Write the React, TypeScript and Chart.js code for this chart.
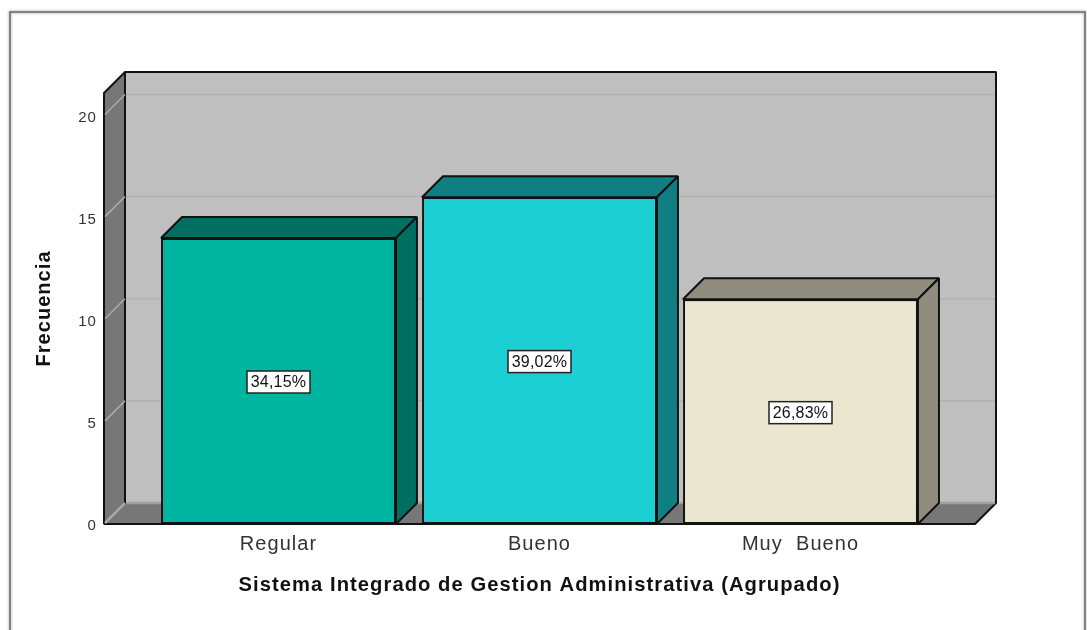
import React, { useEffect, useRef } from "react";
import { Chart, registerables } from "chart.js";

Chart.register(...registerables);

const categories = ["Regular", "Bueno", "Muy  Bueno"];
const frequencies = [14, 16, 11];
const percentLabels = ["34,15%", "39,02%", "26,83%"];
const frontColors = ["#00B5A0", "#1CCFD2", "#EBE6D0"];
const sideColors = ["#006F62", "#0F7F83", "#918D7E"];
const yTicks = [0, 5, 10, 15, 20];
const xTitle = "Sistema Integrado de Gestion Administrativa (Agrupado)";
const yTitle = "Frecuencia";

const DEPTH = 21;
const WALL_LEFT = 104;
const WALL_RIGHT = 975;
const FONT = "'Liberation Sans', Arial, sans-serif";
const INK = "#111111";

function poly(ctx: CanvasRenderingContext2D, pts: number[][], fill: string, stroke = INK, lw = 2) {
  ctx.beginPath();
  pts.forEach((p, i) => (i ? ctx.lineTo(p[0], p[1]) : ctx.moveTo(p[0], p[1])));
  ctx.closePath();
  ctx.fillStyle = fill;
  ctx.fill();
  ctx.lineWidth = lw;
  ctx.strokeStyle = stroke;
  ctx.lineJoin = "bevel";
  ctx.stroke();
}

const framePlugin = {
  id: "frame",
  beforeDraw(chart: any) {
    const ctx = chart.ctx;
    ctx.save();
    ctx.fillStyle = "#fff";
    ctx.fillRect(0, 0, chart.width, chart.height);
    ctx.strokeStyle = "rgba(120,120,120,0.9)";
    ctx.lineWidth = 2;
    ctx.shadowColor = "rgba(90,90,90,0.6)";
    ctx.shadowBlur = 3;
    ctx.beginPath();
    ctx.moveTo(10, 640);
    ctx.lineTo(10, 12);
    ctx.lineTo(1085, 12);
    ctx.lineTo(1085, 640);
    ctx.stroke();
    ctx.restore();
    (ctx as any).letterSpacing = "1.05px";
  },
};

const box3dPlugin = {
  id: "box3d",
  beforeDatasetsDraw(chart: any) {
    const ctx = chart.ctx as CanvasRenderingContext2D;
    const y = chart.scales.y;
    const top = chart.chartArea.top;
    const bottom = chart.chartArea.bottom;
    ctx.save();
    poly(ctx, [
      [WALL_LEFT + DEPTH, top - DEPTH],
      [WALL_RIGHT + DEPTH, top - DEPTH],
      [WALL_RIGHT + DEPTH, bottom - DEPTH],
      [WALL_LEFT + DEPTH, bottom - DEPTH],
    ], "#BFBFBF");
    poly(ctx, [
      [WALL_LEFT, top],
      [WALL_LEFT + DEPTH, top - DEPTH],
      [WALL_LEFT + DEPTH, bottom - DEPTH],
      [WALL_LEFT, bottom],
    ], "#777777");
    poly(ctx, [
      [WALL_LEFT, bottom],
      [WALL_LEFT + DEPTH, bottom - DEPTH],
      [WALL_RIGHT + DEPTH, bottom - DEPTH],
      [WALL_RIGHT, bottom],
    ], "#777777");
    yTicks.forEach((t) => {
      const py = y.getPixelForValue(t);
      ctx.lineWidth = t === 0 ? 2.5 : 1.5;
      ctx.strokeStyle = "#ABABAB";
      ctx.beginPath();
      ctx.moveTo(WALL_LEFT + 1, py - 1);
      ctx.lineTo(WALL_LEFT + DEPTH, py - DEPTH);
      ctx.stroke();
      ctx.strokeStyle = t === 0 ? "#A0A0A0" : "#B2B2B2";
      ctx.beginPath();
      ctx.moveTo(WALL_LEFT + DEPTH + 1, py - DEPTH);
      ctx.lineTo(WALL_RIGHT + DEPTH - 1, py - DEPTH);
      ctx.stroke();
    });
    chart.getDatasetMeta(0).data.forEach((bar: any, i: number) => {
      const l = bar.x - bar.width / 2;
      const r = bar.x + bar.width / 2;
      const t = bar.y;
      const b = bar.base;
      poly(ctx, [[l, t], [l + DEPTH, t - DEPTH], [r + DEPTH, t - DEPTH], [r, t]], sideColors[i]);
      poly(ctx, [[r, t], [r + DEPTH, t - DEPTH], [r + DEPTH, b - DEPTH], [r, b]], sideColors[i]);
    });
    ctx.restore();
  },
  afterDatasetsDraw(chart: any) {
    const ctx = chart.ctx as CanvasRenderingContext2D;
    const y = chart.scales.y;
    ctx.save();
    (ctx as any).letterSpacing = "0.2px";
    ctx.font = `16px ${FONT}`;
    ctx.textAlign = "center";
    ctx.textBaseline = "middle";
    chart.getDatasetMeta(0).data.forEach((bar: any, i: number) => {
      const cy = y.getPixelForValue(frequencies[i] / 2) + 1;
      ctx.fillStyle = "#fff";
      ctx.fillRect(bar.x - 31.5, cy - 11, 63, 22);
      ctx.strokeStyle = "#222";
      ctx.lineWidth = 1.5;
      ctx.strokeRect(bar.x - 31.5, cy - 11, 63, 22);
      ctx.fillStyle = "#111";
      ctx.fillText(percentLabels[i], bar.x, cy + 1);
    });
    ctx.restore();
    (ctx as any).letterSpacing = "1.05px";
  },
};

export default function App() {
  const ref = useRef<HTMLCanvasElement>(null);
  useEffect(() => {
    const chart = new Chart(ref.current!, {
      type: "bar",
      data: {
        labels: categories,
        datasets: [
          {
            data: frequencies,
            backgroundColor: frontColors,
            borderColor: INK,
            borderWidth: 2,
            borderSkipped: false,
            barPercentage: 0.9,
            categoryPercentage: 1,
          },
        ],
      },
      plugins: [framePlugin, box3dPlugin],
      options: {
        responsive: false,
        animation: false,
        layout: { padding: { left: 32, right: 156, top: 93, bottom: 32 } },
        plugins: { legend: { display: false }, tooltip: { enabled: false } },
        scales: {
          x: {
            grid: { display: false, drawTicks: false },
            border: { display: false },
            afterFit: (s: any) => { s.height = 74; },
            ticks: {
              color: "#333333",
              padding: 8,
              maxRotation: 0,
              font: { family: FONT, size: 20 },
            },
            title: {
              display: true,
              text: xTitle,
              color: "#111111",
              padding: 0,
              font: { family: FONT, size: 20.2, weight: "bold" },
            },
          },
          y: {
            min: 0,
            max: 21.1,
            grid: { display: false, drawTicks: false },
            border: { display: false },
            afterFit: (s: any) => { s.width = 116; },
            afterBuildTicks: (s: any) => { s.ticks = yTicks.map((v) => ({ value: v })); },
            ticks: {
              color: "#333333",
              padding: 51,
              labelOffset: 2,
              includeBounds: false,
              font: { family: FONT, size: 15 },
            },
            title: {
              display: true,
              text: yTitle,
              color: "#111111",
              padding: 0,
              font: { family: FONT, size: 20, weight: "bold" },
            },
          },
        },
      } as any,
    });
    return () => chart.destroy();
  }, []);
  return (
    <canvas
      ref={ref}
      width={1087}
      height={630}
      style={{ position: "fixed", left: 0, top: 0, display: "block", filter: "blur(0.5px)" }}
    />
  );
}
